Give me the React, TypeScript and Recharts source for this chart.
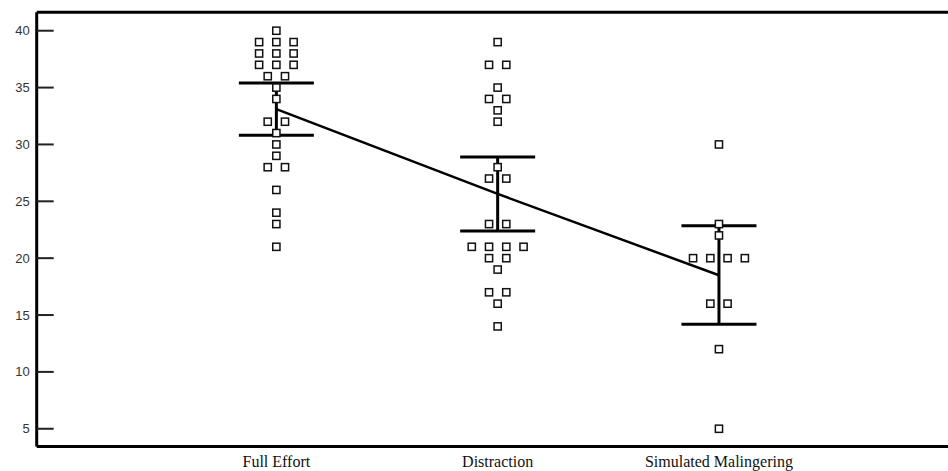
import React from 'react';
import { ComposedChart, Scatter, Line, XAxis, YAxis, ErrorBar, ReferenceLine } from 'recharts';

const categories = ['Full Effort', 'Distraction', 'Simulated Malingering'];
const categoryX = [1, 2, 3];
const yTicks = [5, 10, 15, 20, 25, 30, 35, 40];

// individual scores and their horizontal slot (side-by-side placement of tied scores)
const fullEffortScores = [40, 39, 39, 39, 38, 38, 38, 37, 37, 37, 36, 36, 35, 34, 32, 32, 31, 30, 29, 28, 28, 26, 24, 23, 21];
const fullEffortSlots = [0, -2, 0, 2, -2, 0, 2, -2, 0, 2, -1, 1, 0, 0, -1, 1, 0, 0, 0, -1, 1, 0, 0, 0, 0];
const distractionScores = [39, 37, 37, 35, 34, 34, 33, 32, 28, 27, 27, 23, 23, 21, 21, 21, 21, 20, 20, 19, 17, 17, 16, 14];
const distractionSlots = [0, -1, 1, 0, -1, 1, 0, 0, 0, -1, 1, -1, 1, -3, -1, 1, 3, -1, 1, 0, -1, 1, 0, 0];
const malingeringScores = [30, 23, 22, 20, 20, 20, 20, 16, 16, 12, 5];
const malingeringSlots = [0, 0, 0, -3, -1, 1, 3, -1, 1, 0, 0];

const groupMeans = [33.1, 25.65, 18.5];
const ciLower = [30.8, 22.4, 14.2];
const ciUpper = [35.4, 28.9, 22.85];

const SLOT_STEP = 0.039;
const Y_MIN = 3.44;
const Y_MAX = 41.62;
const X_MIN = -0.083;
const X_MAX = 4.035;

const buildPoints = (groupX: number, scores: number[], slots: number[]) =>
  scores.map((s, i) => ({ x: groupX + slots[i] * SLOT_STEP, y: s }));

const groups = [
  buildPoints(categoryX[0], fullEffortScores, fullEffortSlots),
  buildPoints(categoryX[1], distractionScores, distractionSlots),
  buildPoints(categoryX[2], malingeringScores, malingeringSlots),
];

const meanData = categoryX.map((x, i) => ({
  x,
  y: groupMeans[i],
  err: [groupMeans[i] - ciLower[i], ciUpper[i] - groupMeans[i]],
}));

const SquareShape = (props: any) => {
  const { cx, cy } = props;
  if (cx == null || cy == null) return null;
  return <rect x={cx - 3.6} y={cy - 3.6} width={7.2} height={7.2} fill="#fff" stroke="#111" strokeWidth={1.5} />;
};

const YTick = (props: any) => {
  const { x, y, payload } = props;
  return (
    <g>
      <rect x={x + 7} y={y - 1} width={17} height={2} fill="#222" />
      <text x={x} y={y} dy={4.5} textAnchor="end" fontFamily="'Liberation Sans', Arial, sans-serif" fontSize={13} fill="#333">
        {payload.value}
      </text>
    </g>
  );
};

const XTick = (props: any) => {
  const { x, y, payload } = props;
  const idx = categoryX.indexOf(payload.value);
  return (
    <text x={x} y={y + 20} textAnchor="middle" fontFamily="'Liberation Serif', 'Times New Roman', serif" fontSize={16} fill="#111">
      {idx >= 0 ? categories[idx] : ''}
    </text>
  );
};

export default function App() {
  return (
    <div style={{ position: 'absolute', left: 0, top: 0, background: '#fff' }}>
      <ComposedChart width={948} height={471} margin={{ top: 12.3, right: 0, bottom: 0, left: 0 }}>
        <XAxis
          dataKey="x"
          type="number"
          domain={[X_MIN, X_MAX]}
          ticks={categoryX}
          interval={0}
          height={24.5}
          tickSize={0}
          tickMargin={0}
          tickLine={false}
          tick={<XTick />}
          axisLine={{ stroke: '#000', strokeWidth: 3 }}
        />
        <YAxis
          dataKey="y"
          type="number"
          domain={[Y_MIN, Y_MAX]}
          ticks={yTicks}
          interval={0}
          width={36.7}
          tickSize={0}
          tickMargin={7}
          tickLine={false}
          tick={<YTick />}
          axisLine={{ stroke: '#000', strokeWidth: 3 }}
        />
        <ReferenceLine y={Y_MAX} stroke="#000" strokeWidth={3} ifOverflow="visible" />
        {groups.map((g, i) => (
          <Scatter key={i} data={g} dataKey="y" shape={<SquareShape />} isAnimationActive={false} />
        ))}
        <Line
          data={meanData}
          dataKey="y"
          type="linear"
          stroke="#000"
          strokeWidth={2.5}
          dot={false}
          activeDot={false}
          isAnimationActive={false}
        >
          <ErrorBar dataKey="err" direction="y" width={37.5} stroke="#000" strokeWidth={3} />
        </Line>
      </ComposedChart>
    </div>
  );
}
